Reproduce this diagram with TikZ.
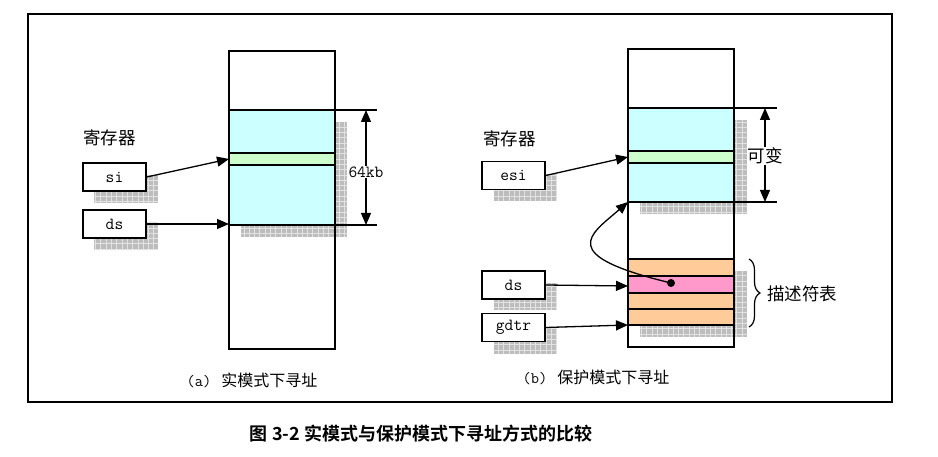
\documentclass[tikz,border=0pt]{standalone}
\usepackage{fontspec}
\newfontfamily\cjk{Noto Sans CJK SC}
\newfontfamily\cjkb{Noto Sans CJK SC Bold}
\usetikzlibrary{arrows.meta,decorations.pathreplacing}
\definecolor{cyanc}{HTML}{CCFFFF}
\definecolor{greenc}{HTML}{CCFFCC}
\definecolor{orangec}{HTML}{FFCC99}
\definecolor{pinkc}{HTML}{FF99CC}
\definecolor{shfill}{HTML}{BDBDBD}
\definecolor{shline}{HTML}{E2E2E2}
\newcommand\shadowrect[2]{%
  \fill[shfill] #1 rectangle #2;
  \begin{scope}\clip #1 rectangle #2;
    \draw[shline, line width=0.6pt, step=5.3pt] #1 grid #2;
  \end{scope}}
\tikzset{
  colbox/.style={draw, line width=2.2pt},
  segline/.style={draw, line width=1.2pt},
  regbox/.style={draw, line width=1.5pt, fill=white, minimum width=63pt, minimum height=28pt, inner sep=0pt, font=\ttfamily\fontsize{17}{17}\selectfont},
  arr/.style={-{Triangle[length=12pt,width=10pt]}, line width=1.3pt},
  dimarr/.style={{Triangle[length=12pt,width=10pt]}-{Triangle[length=12pt,width=10pt]}, line width=1.3pt},
  cjklabel/.style={font=\cjk\fontsize{17.5}{17.5}\selectfont, inner sep=1pt},
  caplabel/.style={font=\cjk\fontsize{16}{16}\selectfont, inner sep=0pt},
}
\begin{document}
\begin{tikzpicture}[x=1pt,y=-1pt]
\useasboundingbox (0,0) rectangle (938,457);
\draw[line width=2.2pt] (28,14) rectangle (892,402);

% ---------------- (a) ----------------
\shadowrect{(241,122)}{(347,237)}
\fill[cyanc] (229,110) rectangle (335,225);
\fill[greenc] (229,153) rectangle (335,165);
\draw[segline] (229,110) -- (335,110) (229,153) -- (335,153) (229,165) -- (335,165) (229,225) -- (335,225);
\draw[colbox] (229,51) rectangle (335,349);
\coordinate (aGreen) at (229,159);
\coordinate (aBot) at (229,224);
\draw[line width=1.2pt] (335,110) -- (377,110) (335,225) -- (377,225);
\coordinate (aDimT) at (366,110);
\coordinate (aDimB) at (366,225);
\draw[dimarr] (aDimT) -- (aDimB);
\node[fill=white, inner sep=1pt, font=\ttfamily\fontsize{17}{17}\selectfont] (kb) at (366,172) {64kb};

\node[cjklabel, anchor=west] (regA) at (82,138) {寄存器};
\shadowrect{(94,189)}{(158,203)}
\shadowrect{(146,175)}{(158,203)}
\node[regbox] (si) at (114.5,177) {si};
\shadowrect{(94,236)}{(158,250)}
\shadowrect{(146,222)}{(158,250)}
\node[regbox] (dsA) at (114.5,224) {ds};
\draw[arr] (si.east) -- (aGreen);
\draw[arr] (dsA.east) -- (aBot);

\node[caplabel] (capA) at (252,380) {\ttfamily (a)\hspace{10pt}\cjk 实模式下寻址};

% ---------------- (b) ----------------
\shadowrect{(640,120)}{(747,214)}
\fill[cyanc] (628,108) rectangle (734,202);
\fill[greenc] (628,151) rectangle (734,163);
\draw[segline] (628,108) -- (734,108) (628,151) -- (734,151) (628,163) -- (734,163) (628,202) -- (734,202);

\shadowrect{(640,271)}{(747,337)}
\fill[orangec] (628,259) rectangle (734,325);
\fill[pinkc] (628,276) rectangle (734,293);
\draw[segline] (628,259) -- (734,259) (628,276) -- (734,276) (628,293) -- (734,293) (628,309) -- (734,309) (628,325) -- (734,325);
\draw[colbox] (628,49) rectangle (734,347);

\coordinate (bGreen) at (628,157);
\coordinate (bBot) at (628,202);
\coordinate (bPink) at (628,286);
\coordinate (bTab) at (628,325);
\draw[line width=1.2pt] (734,108) -- (777,108) (734,202) -- (777,202);
\coordinate (bDimT) at (765,108);
\coordinate (bDimB) at (765,202);
\draw[dimarr] (bDimT) -- (bDimB);
\node[cjklabel, fill=white] (var) at (765,156) {可变};

\draw[line width=1.2pt, decorate, decoration={brace, amplitude=11pt}] (749,259) -- (749,327);
\node[cjklabel, anchor=west] (desc) at (766,294) {描述符表};

\node[cjklabel, anchor=west] (regB) at (482,139) {寄存器};
\shadowrect{(494,188)}{(557,201)}
\shadowrect{(545,174)}{(557,201)}
\node[regbox] (esi) at (513.5,175.5) {esi};
\shadowrect{(494,297)}{(557,310)}
\shadowrect{(545,283)}{(557,310)}
\node[regbox] (dsB) at (513.5,285) {ds};
\shadowrect{(494,341)}{(557,354)}
\shadowrect{(545,327)}{(557,354)}
\node[regbox] (gdtr) at (513.5,327.5) {gdtr};

\draw[arr] (esi.east) -- (bGreen);
\draw[arr] (dsB.east) -- (bPink);
\draw[arr] (gdtr.east) -- (bTab);

\node[circle, fill=black, inner sep=0pt, minimum size=8pt] (dot) at (671,283) {};
\draw[arr] (dot.center) .. controls (555,255) and (590,235) .. (bBot);

\node[caplabel] (capB) at (596,377) {\ttfamily (b)\hspace{10pt}\cjk 保护模式下寻址};

% ---------------- caption ----------------
\node[font=\cjkb\fontsize{18}{18}\selectfont, inner sep=0pt] (fig) at (421,434) {图 3-2 实模式与保护模式下寻址方式的比较};
\end{tikzpicture}
\end{document}
